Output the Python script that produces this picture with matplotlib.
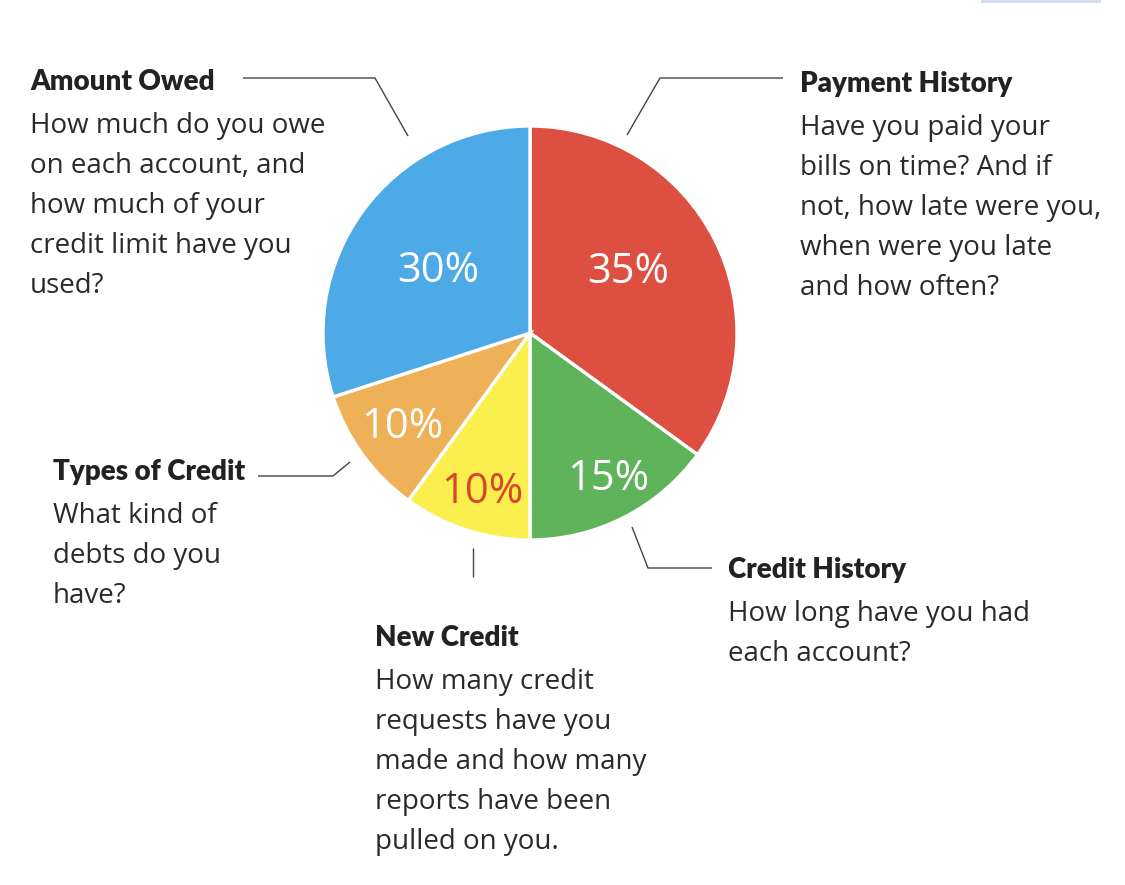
import matplotlib.pyplot as plt
from matplotlib.patches import Rectangle
import numpy as np

# data
categories = ["Payment History", "Credit History", "New Credit", "Types of Credit", "Amount Owed"]
shares = [35, 15, 10, 10, 30]
pct_labels = ["35%", "15%", "10%", "10%", "30%"]
colors = ["#DC4F41", "#5FB35B", "#FBEF4D", "#EFB157", "#4DAAE6"]
label_colors = ["white", "white", "#D9442E", "white", "white"]
label_radius = [0.57, 0.78, 0.78, 0.75, 0.55]
label_shift = [7, 2, 1, -1, 0]  # degrees off the wedge middle

descriptions = {
    "Payment History": ["Have you paid your", "bills on time? And if", "not, how late were you,",
                        "when were you late", "and how often?"],
    "Credit History": ["How long have you had", "each account?"],
    "New Credit": ["How many credit", "requests have you", "made and how many",
                   "reports have been", "pulled on you."],
    "Types of Credit": ["What kind of", "debts do you", "have?"],
    "Amount Owed": ["How much do you owe", "on each account, and", "how much of your",
                    "credit limit have you", "used?"],
}

W, H = 1125, 885
fig = plt.figure(figsize=(W / 100, H / 100), dpi=100)
ax = fig.add_axes([0, 0, 1, 1])

cx, cy, R = 530, H - 333, 207

wedges, _ = ax.pie(shares, colors=colors, startangle=90, counterclock=False,
                   center=(cx, cy), radius=R, frame=True,
                   wedgeprops=dict(edgecolor="white", linewidth=2.4))
ax.set_xlim(0, W)
ax.set_ylim(0, H)
ax.set_aspect("equal")
ax.axis("off")

for w, lab, col, rf, sh in zip(wedges, pct_labels, label_colors, label_radius, label_shift):
    mid = np.deg2rad((w.theta1 + w.theta2) / 2 + sh)
    ax.text(cx + rf * R * np.cos(mid), cy + rf * R * np.sin(mid) - 5, lab,
            color=col, fontsize=30, family=["Open Sans", "DejaVu Sans"],
            ha="center", va="center")

title_font = ["Lato", "DejaVu Sans"]
body_font = ["Open Sans", "DejaVu Sans"]

# text block anchors: left x, title center y (pixels from top)
blocks = {
    "Amount Owed": (30, 82),
    "Payment History": (800, 84),
    "Types of Credit": (53, 472),
    "New Credit": (375, 638),
    "Credit History": (728, 570),
}
for name, (x, y) in blocks.items():
    ax.text(x, H - y, name, fontsize=20, fontweight="heavy", family=title_font,
            color="#222222", ha="left", va="center")
    for i, line in enumerate(descriptions[name]):
        ax.text(x, H - (y + 44 + 40 * i), line, fontsize=20, family=body_font,
                color="#2a2a2a", ha="left", va="center")

# leader lines
leaders = [
    [(243, 78), (375, 78), (408, 136)],
    [(627, 135), (660, 78), (783, 78)],
    [(258, 476), (333, 476), (350, 462)],
    [(473, 548), (473, 577)],
    [(632, 527), (648, 568), (712, 568)],
]
for pts in leaders:
    xs = [p[0] for p in pts]
    ys = [H - p[1] for p in pts]
    ax.plot(xs, ys, color="#444444", linewidth=1.0, solid_capstyle="butt")

ax.add_patch(Rectangle((981, H - 3), 120, 3, color="#D3DDF5", lw=0))

fig.savefig("out.png", dpi=100, facecolor="white")
